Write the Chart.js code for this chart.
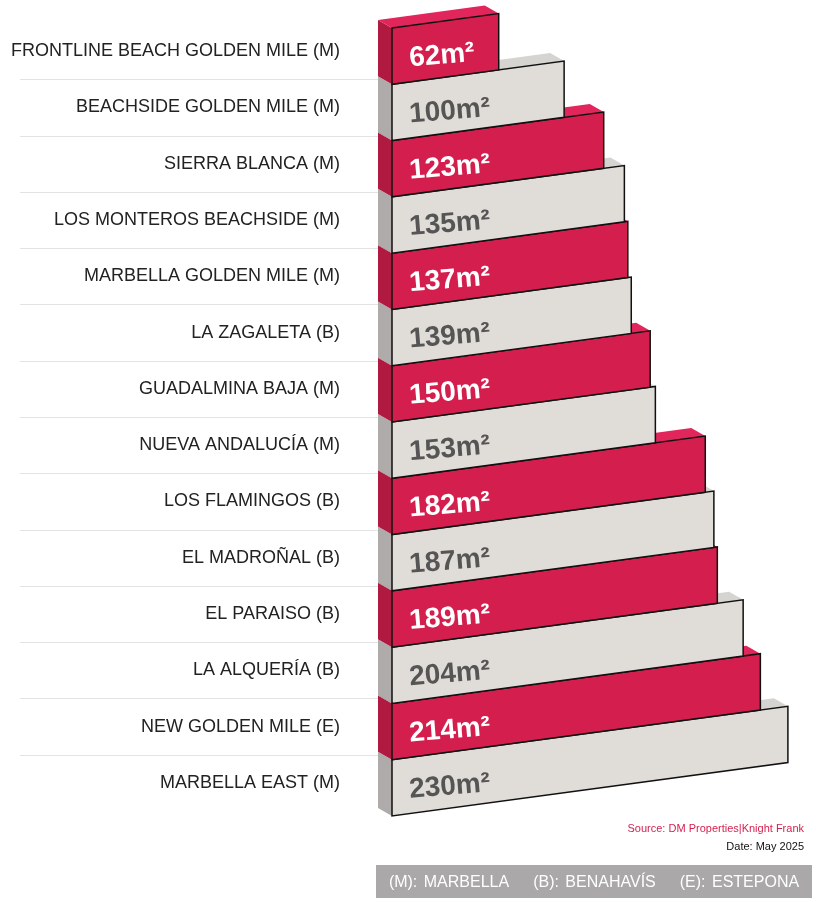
<!DOCTYPE html>
<html><head><meta charset="utf-8">
<script src="https://cdn.jsdelivr.net/npm/chart.js@4"></script>
<style>
body{margin:0;background:#fff;width:816px;height:902px;position:relative;overflow:hidden;font-family:"Liberation Sans",Arial,sans-serif}
#wrap{position:absolute;left:0;top:0;width:816px;height:902px}
.src{position:absolute;right:12px;top:822px;font-size:11px;color:#d41f4e}
.date{position:absolute;right:12px;top:840px;font-size:11px;color:#111}
.leg{position:absolute;left:376px;top:865px;width:436px;height:33px;background:#aaa8a8;color:#fff;font-size:16px;line-height:33px;text-align:center;word-spacing:2px}
.leg span{margin:0 12px}
</style></head><body>
<div id="wrap"><canvas id="c" width="816" height="902"></canvas></div>
<div class="src">Source: DM Properties|Knight Frank</div>
<div class="date">Date: May 2025</div>
<div class="leg"><span>(M): MARBELLA</span><span>(B): BENAHAVÍS</span><span>(E): ESTEPONA</span></div>
<script>
const categories=["FRONTLINE BEACH GOLDEN MILE (M)","BEACHSIDE GOLDEN MILE (M)","SIERRA BLANCA (M)","LOS MONTEROS BEACHSIDE (M)","MARBELLA GOLDEN MILE (M)","LA ZAGALETA (B)","GUADALMINA BAJA (M)","NUEVA ANDALUCÍA (M)","LOS FLAMINGOS (B)","EL MADROÑAL (B)","EL PARAISO (B)","LA ALQUERÍA (B)","NEW GOLDEN MILE (E)","MARBELLA EAST (M)"];
const values=[62,100,123,135,137,139,150,153,182,187,189,204,214,230];
const unit="m²";
const S=0.135, DX=-14, DY=-8;
const pal={red:{front:"#d41f4e",side:"#b01a40",top:"#e0265a",text:"#ffffff"},gray:{front:"#e0ddd9",side:"#aeabaa",top:"#d6d4d1",text:"#555555"}};
const bars3d={id:"bars3d",afterDatasetsDraw(chart){
  const ctx=chart.ctx, meta=chart.getDatasetMeta(0), ca=chart.chartArea, ys=chart.scales.y;
  ctx.save();
  ctx.strokeStyle="#e3e3e3";ctx.lineWidth=1;
  for(let i=1;i<categories.length;i++){const y=(ys.getPixelForValue(i-1)+ys.getPixelForValue(i))/2-5;ctx.beginPath();ctx.moveTo(20,Math.round(y)+0.5);ctx.lineTo(ca.left+DX,Math.round(y)+0.5);ctx.stroke();}
  ctx.fillStyle="#222";ctx.font="18px 'Liberation Sans', Arial, sans-serif";ctx.textAlign="right";ctx.textBaseline="middle";
  categories.forEach((c,i)=>ctx.fillText(c,340,ys.getPixelForValue(i)-5));
  ctx.textAlign="left";
  for(let i=meta.data.length-1;i>=0;i--){
    const el=meta.data[i];const p=i%2===0?pal.red:pal.gray;
    const L=el.base,R=el.x,T=el.y-el.height/2,B=el.y+el.height/2,w=R-L,sh=S*w;
    const poly=(pts,fill,stroke)=>{ctx.beginPath();pts.forEach((q,k)=>k?ctx.lineTo(q[0],q[1]):ctx.moveTo(q[0],q[1]));ctx.closePath();ctx.fillStyle=fill;ctx.fill();if(stroke){ctx.strokeStyle=stroke;ctx.lineWidth=1.5;ctx.stroke();}};
    poly([[L,T],[L+DX,T+DY],[L+DX,B+DY],[L,B]],p.side);
    poly([[L,T],[L+DX,T+DY],[R+DX,T-sh+DY],[R,T-sh]],p.top);
    poly([[L,T],[R,T-sh],[R,B-sh],[L,B]],p.front,"#111");
    ctx.save();ctx.translate(L+18,el.y+10);ctx.rotate(-Math.atan(S*0.6));
    ctx.fillStyle=p.text;ctx.font="bold 28px 'Liberation Sans', Arial, sans-serif";ctx.textBaseline="alphabetic";
    ctx.fillText(values[i]+unit,0,0);ctx.restore();
  }
  ctx.restore();
}};
new Chart(document.getElementById("c"),{type:"bar",
 data:{labels:categories,datasets:[{data:values,backgroundColor:"rgba(0,0,0,0)",borderWidth:0,barPercentage:1,categoryPercentage:1}]},
 options:{indexAxis:"y",responsive:false,animation:false,devicePixelRatio:1,
  layout:{padding:{left:0,right:4,top:28,bottom:86}},
  plugins:{legend:{display:false},tooltip:{enabled:false}},
  scales:{
   x:{display:false,min:0,max:244},
   y:{afterFit:s=>{s.width=392;},grid:{display:false,drawTicks:false},border:{display:false},
      ticks:{display:false}}
  }},
 plugins:[bars3d]});
</script></body></html>
